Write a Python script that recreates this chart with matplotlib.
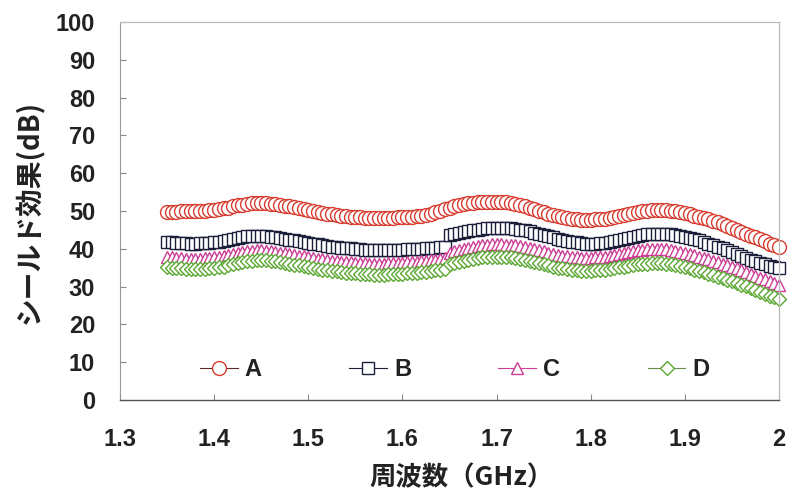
import matplotlib
matplotlib.use('Agg')
import matplotlib.pyplot as plt
import numpy as np

# shielding effectiveness (dB), read every 0.005 GHz from 1.35 to 2.00 GHz
a_vals = [49.8, 49.8, 49.8, 49.9, 49.9, 49.9, 50.0, 50.0, 50.1, 50.2,
          50.3, 50.5, 50.7, 50.9, 51.2, 51.5, 51.7, 51.9, 52.0, 52.1,
          52.0, 52.0, 51.9, 51.8, 51.6, 51.4, 51.2, 51.0, 50.8, 50.5,
          50.3, 50.0, 49.8, 49.5, 49.3, 49.1, 48.9, 48.7, 48.6, 48.5,
          48.4, 48.3, 48.2, 48.2, 48.1, 48.1, 48.1, 48.2, 48.2, 48.3,
          48.3, 48.4, 48.5, 48.6, 48.8, 49.0, 49.3, 49.7, 50.1, 50.5,
          50.9, 51.3, 51.6, 51.8, 52.0, 52.2, 52.3, 52.4, 52.5, 52.5,
          52.5, 52.4, 52.3, 52.1, 51.9, 51.6, 51.3, 50.9, 50.5, 50.1,
          49.7, 49.3, 48.9, 48.6, 48.3, 48.1, 47.9, 47.8, 47.7, 47.7,
          47.7, 47.8, 47.9, 48.0, 48.2, 48.4, 48.6, 48.9, 49.2, 49.5,
          49.7, 49.9, 50.1, 50.2, 50.3, 50.3, 50.2, 50.1, 49.9, 49.7,
          49.4, 49.1, 48.8, 48.5, 48.2, 47.8, 47.4, 47.0, 46.6, 46.1,
          45.6, 45.0, 44.5, 44.0, 43.5, 43.0, 42.5, 42.0, 41.4, 40.9,
          40.4]
b_vals = [41.9, 41.7, 41.6, 41.5, 41.5, 41.4, 41.4, 41.5, 41.5, 41.6,
          41.7, 41.9, 42.1, 42.4, 42.6, 42.9, 43.1, 43.3, 43.4, 43.5,
          43.5, 43.4, 43.2, 43.0, 42.8, 42.6, 42.4, 42.2, 42.0, 41.8,
          41.6, 41.4, 41.2, 41.0, 40.8, 40.6, 40.5, 40.3, 40.2, 40.1,
          40.0, 39.9, 39.8, 39.8, 39.7, 39.7, 39.7, 39.7, 39.7, 39.8,
          39.8, 39.9, 39.9, 40.0, 40.0, 40.1, 40.2, 40.3, 40.4, 40.5,
          43.6, 43.9, 44.2, 44.5, 44.7, 44.9, 45.1, 45.3, 45.4, 45.5,
          45.6, 45.6, 45.5, 45.4, 45.3, 45.1, 44.9, 44.6, 44.3, 44.0,
          43.7, 43.3, 43.0, 42.7, 42.4, 42.1, 41.9, 41.7, 41.5, 41.4,
          41.4, 41.4, 41.5, 41.6, 41.8, 42.0, 42.2, 42.5, 42.8, 43.1,
          43.4, 43.6, 43.8, 43.9, 44.0, 44.0, 43.9, 43.8, 43.6, 43.4,
          43.1, 42.8, 42.5, 42.2, 41.8, 41.4, 41.0, 40.6, 40.1, 39.6,
          39.1, 38.6, 38.1, 37.6, 37.1, 36.7, 36.3, 35.9, 35.5, 35.2,
          34.9]
c_vals = [37.8, 37.7, 37.6, 37.5, 37.4, 37.4, 37.4, 37.4, 37.5, 37.6,
          37.7, 37.9, 38.1, 38.4, 38.7, 39.0, 39.2, 39.4, 39.5, 39.6,
          39.6, 39.5, 39.4, 39.2, 39.0, 38.8, 38.6, 38.4, 38.2, 38.0,
          37.8, 37.6, 37.4, 37.2, 37.0, 36.9, 36.7, 36.6, 36.5, 36.4,
          36.3, 36.2, 36.2, 36.1, 36.1, 36.1, 36.1, 36.2, 36.2, 36.3,
          36.3, 36.4, 36.5, 36.6, 36.7, 36.8, 37.0, 37.1, 37.3, 37.5,
          38.9, 39.3, 39.6, 39.9, 40.2, 40.5, 40.7, 40.9, 41.1, 41.2,
          41.2, 41.2, 41.1, 41.0, 40.9, 40.7, 40.5, 40.2, 39.9, 39.6,
          39.3, 39.0, 38.7, 38.4, 38.2, 38.0, 37.8, 37.7, 37.6, 37.6,
          37.6, 37.7, 37.8, 37.9, 38.1, 38.3, 38.5, 38.8, 39.1, 39.3,
          39.6, 39.8, 39.9, 40.0, 40.0, 40.0, 39.9, 39.7, 39.5, 39.2,
          38.9, 38.6, 38.3, 37.9, 37.6, 37.2, 36.8, 36.4, 36.0, 35.6,
          35.2, 34.8, 34.3, 33.8, 33.3, 32.9, 32.4, 31.9, 31.4, 30.9,
          30.4]
d_vals = [35.1, 35.0, 34.9, 34.8, 34.7, 34.6, 34.6, 34.6, 34.7, 34.8,
          34.9, 35.1, 35.3, 35.6, 35.9, 36.2, 36.5, 36.7, 36.9, 37.0,
          37.0, 37.0, 36.9, 36.7, 36.5, 36.3, 36.1, 35.8, 35.6, 35.4,
          35.1, 34.9, 34.7, 34.5, 34.3, 34.1, 34.0, 33.8, 33.7, 33.6,
          33.5, 33.4, 33.3, 33.3, 33.2, 33.2, 33.2, 33.3, 33.3, 33.4,
          33.4, 33.5, 33.6, 33.7, 33.8, 33.9, 34.1, 34.3, 34.5, 34.7,
          35.9, 36.2, 36.5, 36.8, 37.0, 37.3, 37.5, 37.7, 37.8, 37.9,
          37.9, 37.9, 37.8, 37.7, 37.5, 37.3, 37.1, 36.8, 36.5, 36.2,
          35.9, 35.6, 35.3, 35.0, 34.8, 34.6, 34.4, 34.3, 34.2, 34.2,
          34.2, 34.3, 34.4, 34.5, 34.7, 34.9, 35.1, 35.3, 35.5, 35.7,
          35.9, 36.0, 36.1, 36.2, 36.2, 36.2, 36.1, 35.9, 35.7, 35.4,
          35.1, 34.8, 34.5, 34.1, 33.8, 33.4, 33.0, 32.6, 32.2, 31.8,
          31.4, 31.0, 30.5, 30.1, 29.6, 29.1, 28.6, 28.1, 27.6, 27.2,
          26.7]
f_start, f_stop = 1.35, 2.0

labels = ['A', 'B', 'C', 'D']
x_ticks = [1.3, 1.4, 1.5, 1.6, 1.7, 1.8, 1.9, 2.0]
x_ticklabels = ['1.3', '1.4', '1.5', '1.6', '1.7', '1.8', '1.9', '2']
y_ticks = [0, 10, 20, 30, 40, 50, 60, 70, 80, 90, 100]

plt.rcParams['font.family'] = ['Liberation Sans', 'DejaVu Sans']
jp_font = ['Noto Sans CJK JP', 'DejaVu Sans']
txt_col = '#222222'

fig = plt.figure(figsize=(7.88, 4.95), dpi=100)
ax = fig.add_axes([120 / 788, 1 - 400 / 495, 659 / 788, 378 / 495])

styles = [
    dict(marker='o', mec='#d83a2e', color='#5a2a2a', ms=10.0),
    dict(marker='s', mec='#1c1f3a', color='#1c1f3a', ms=8.8),
    dict(marker='^', mec='#cc3d96', color='#cc3d96', ms=8.8),
    dict(marker='D', mec='#5aa832', color='#6b8a4a', ms=7.2),
]
series = [a_vals, b_vals, c_vals, d_vals]
for vals, lab, st in zip(series, labels, styles):
    freq = np.linspace(f_start, f_stop, len(vals))
    ax.plot(freq, vals, linestyle='-', lw=0.8, mfc='white', mew=1.0,
            label=lab, clip_on=False, **st)

ax.set_xlim(1.3, 2.0)
ax.set_ylim(0, 100)
ax.set_xticks(x_ticks)
ax.set_xticklabels(x_ticklabels)
ax.set_yticks(y_ticks)
ax.tick_params(axis='both', direction='in', length=4, width=0.8,
               colors='#888888', labelcolor=txt_col, labelsize=17)
ax.tick_params(axis='x', pad=20)
ax.tick_params(axis='y', pad=18)
for lb in ax.get_xticklabels() + ax.get_yticklabels():
    lb.set_fontweight('bold')

for side in ['top', 'right']:
    ax.spines[side].set_color('#bbbbbb')
    ax.spines[side].set_linewidth(0.9)
ax.spines['left'].set_color('#999999')
ax.spines['bottom'].set_color('#555555')
ax.spines['bottom'].set_linewidth(1.0)

leg = ax.legend(ncol=4, loc='center', bbox_to_anchor=(0.508, 0.08),
                frameon=False, numpoints=1, handlelength=1.6,
                handletextpad=0.3, columnspacing=3.7,
                prop=dict(size=17, weight='bold'))
for t in leg.get_texts():
    t.set_color(txt_col)

fig.text(0.038, 1 - 212 / 495, 'シールド効果(dB)', rotation=90, ha='center',
         va='center', fontsize=20, fontweight='bold', family=jp_font,
         color=txt_col)
fig.text(462 / 788, 1 - 478 / 495, '周波数（GHz）', ha='center', va='center',
         fontsize=19, fontweight='bold', family=jp_font, color=txt_col)

fig.savefig('out.png', dpi=100)
